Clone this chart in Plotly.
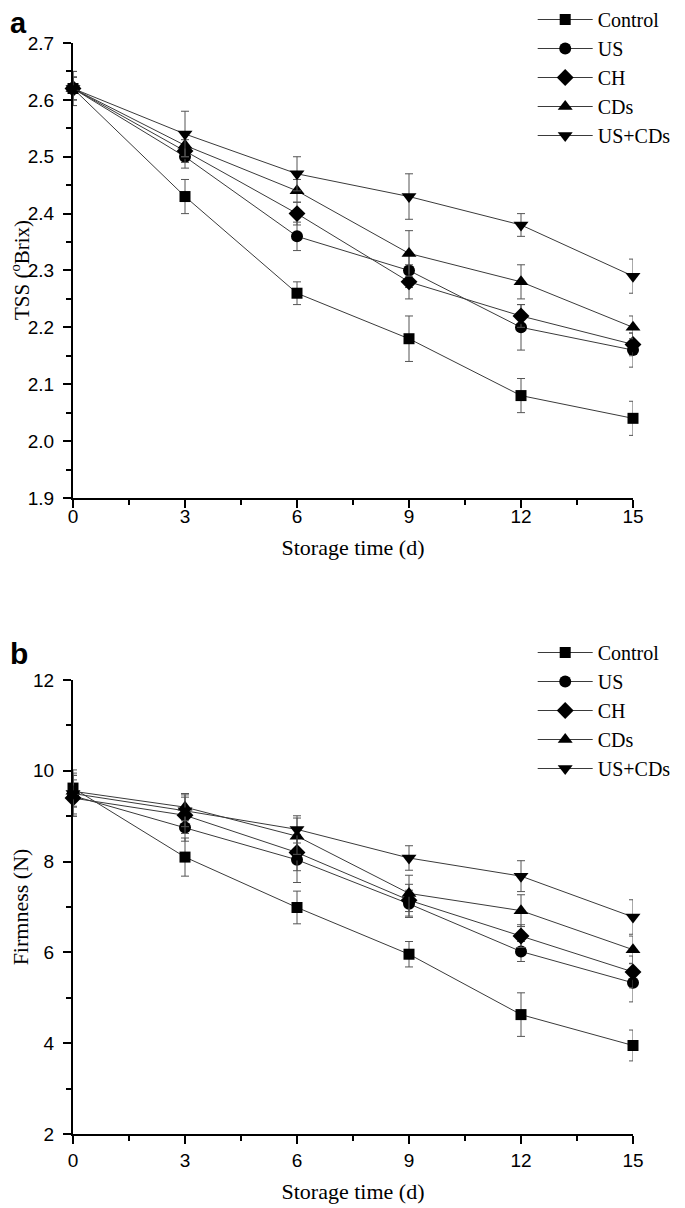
import plotly.graph_objects as go

days = [0, 3, 6, 9, 12, 15]
series_names = ["Control", "US", "CH", "CDs", "US+CDs"]
symbols = ["square", "circle", "diamond", "triangle-up", "triangle-down"]
sizes = [11, 12, 13, 13, 13]

# Panel a: TSS (°Brix)
tss_control = [2.62, 2.43, 2.26, 2.18, 2.08, 2.04]
tss_us = [2.62, 2.50, 2.36, 2.30, 2.20, 2.16]
tss_ch = [2.62, 2.51, 2.40, 2.28, 2.22, 2.17]
tss_cds = [2.62, 2.52, 2.44, 2.33, 2.28, 2.20]
tss_uscds = [2.62, 2.54, 2.47, 2.43, 2.38, 2.29]
tss_control_err = [0.02, 0.03, 0.02, 0.04, 0.03, 0.03]
tss_us_err = [0.02, 0.02, 0.025, 0.03, 0.04, 0.03]
tss_ch_err = [0.03, 0.02, 0.02, 0.03, 0.02, 0.02]
tss_cds_err = [0.02, 0.02, 0.02, 0.04, 0.03, 0.02]
tss_uscds_err = [0.03, 0.04, 0.03, 0.04, 0.02, 0.03]

# Panel b: Firmness (N)
fir_control = [9.62, 8.10, 6.99, 5.96, 4.63, 3.95]
fir_us = [9.45, 8.75, 8.04, 7.07, 6.02, 5.33]
fir_ch = [9.40, 9.02, 8.20, 7.15, 6.36, 5.57]
fir_cds = [9.55, 9.20, 8.56, 7.30, 6.92, 6.06]
fir_uscds = [9.50, 9.12, 8.71, 8.08, 7.68, 6.78]
fir_control_err = [0.40, 0.42, 0.36, 0.28, 0.48, 0.34]
fir_us_err = [0.45, 0.30, 0.50, 0.30, 0.22, 0.42]
fir_ch_err = [0.40, 0.40, 0.40, 0.35, 0.25, 0.35]
fir_cds_err = [0.35, 0.30, 0.40, 0.40, 0.35, 0.30]
fir_uscds_err = [0.45, 0.35, 0.30, 0.27, 0.34, 0.38]

tss = [tss_control, tss_us, tss_ch, tss_cds, tss_uscds]
tss_err = [tss_control_err, tss_us_err, tss_ch_err, tss_cds_err, tss_uscds_err]
fir = [fir_control, fir_us, fir_ch, fir_cds, fir_uscds]
fir_err = [fir_control_err, fir_us_err, fir_ch_err, fir_cds_err, fir_uscds_err]

SERIF = "Liberation Serif, Times New Roman, serif"
SANS = "Liberation Sans, Arial, sans-serif"

# the page adds an 8 px body margin; the figure is sized so the page fits the window
W, H = 677, 1200
PL, PT = 65, 35          # plot-area left / top inside the figure
PW, PH = 560, 1091       # plot-area width / height

fig = go.Figure()

for i, name in enumerate(series_names):
    fig.add_trace(go.Scatter(
        x=days, y=tss[i], name=name, mode="lines+markers",
        line=dict(color="#3a3a3a", width=1),
        marker=dict(symbol=symbols[i], size=sizes[i], color="black"),
        error_y=dict(type="data", array=tss_err[i], visible=True,
                     color="#555555", thickness=1, width=4),
        xaxis="x", yaxis="y", legend="legend", cliponaxis=False,
    ))
for i, name in enumerate(series_names):
    fig.add_trace(go.Scatter(
        x=days, y=fir[i], name=name, mode="lines+markers",
        line=dict(color="#3a3a3a", width=1),
        marker=dict(symbol=symbols[i], size=sizes[i], color="black"),
        error_y=dict(type="data", array=fir_err[i], visible=True,
                     color="#555555", thickness=1, width=4),
        xaxis="x2", yaxis="y2", legend="legend2", cliponaxis=False,
    ))


def xaxis_style(label_standoff):
    return dict(
        range=[0, 15], tickmode="array", tickvals=[0, 3, 6, 9, 12, 15],
        ticks="outside", ticklen=8, tickwidth=1.5, tickcolor="black",
        showline=True, linewidth=2, linecolor="black", showgrid=False, zeroline=False,
        automargin=False, ticklabelstandoff=label_standoff,
        tickfont=dict(family=SANS, size=19, color="black"),
        minor=dict(ticks="outside", ticklen=5, tickwidth=1.5, tickcolor="black",
                   tickvals=[1.5, 4.5, 7.5, 10.5, 13.5], showgrid=False),
        title=dict(text="Storage time (d)", font=dict(family=SERIF, size=22, color="black"), standoff=14),
    )


ycommon = dict(
    ticks="outside", ticklen=8, tickwidth=1.5, tickcolor="black",
    showline=True, linewidth=2, linecolor="black", showgrid=False, zeroline=False,
    automargin=False, ticklabelstandoff=5,
    tickfont=dict(family=SANS, size=19, color="black"),
)

legend_common = dict(xanchor="left", yanchor="top",
                     bgcolor="rgba(0,0,0,0)", font=dict(family=SERIF, size=20, color="black"),
                     itemwidth=55, tracegroupgap=0)

fig.update_layout(
    width=W, height=H,
    paper_bgcolor="white", plot_bgcolor="white",
    margin=dict(l=PL, r=W - PL - PW, t=PT, b=H - PT - PH, autoexpand=False),
    showlegend=True,
    xaxis=dict(domain=[0, 1], anchor="y", **xaxis_style(-8)),
    yaxis=dict(domain=[0.583, 1.0], anchor="x", range=[1.9, 2.7],
               tickvals=[1.9, 2.0, 2.1, 2.2, 2.3, 2.4, 2.5, 2.6, 2.7],
               ticktext=["1.9", "2.0", "2.1", "2.2", "2.3", "2.4", "2.5", "2.6", "2.7"],
               minor=dict(ticks="outside", ticklen=5, tickwidth=1.5, tickcolor="black",
                          tickvals=[1.95, 2.05, 2.15, 2.25, 2.35, 2.45, 2.55, 2.65], showgrid=False),
               **ycommon),
    xaxis2=dict(domain=[0, 1], anchor="y2", **xaxis_style(0)),
    yaxis2=dict(domain=[0.0, 0.4161], anchor="x2", range=[2, 12],
                tickvals=[2, 4, 6, 8, 10, 12],
                minor=dict(ticks="outside", ticklen=5, tickwidth=1.5, tickcolor="black",
                           tickvals=[3, 5, 7, 9, 11], showgrid=False),
                title=dict(text="Firmness (N)", font=dict(family=SERIF, size=22, color="black"), standoff=8),
                **ycommon),
    legend=dict(xref="container", yref="paper", x=524.7 / W, y=1 + 43 / PH, **legend_common),
    legend2=dict(xref="container", yref="container", x=524.7 / W, y=1 - 625 / H, **legend_common),
)

# y-axis title of panel a (rotated text, kept clear of the tick labels)
fig.add_annotation(text="TSS (<sup>o</sup>Brix)", xref="paper", yref="paper",
                   x=-(PL - 12) / PW, y=(PH + PT - 262) / PH, xanchor="center", yanchor="middle",
                   textangle=-90, showarrow=False,
                   font=dict(family=SERIF, size=21, color="black"))

fig.add_annotation(text="<b>a</b>", xref="paper", yref="paper",
                   x=-PL / PW, y=(PH + PT - 15) / PH, xanchor="left", yanchor="middle",
                   showarrow=False, font=dict(family=SANS, size=29, color="black"))
fig.add_annotation(text="<b>b</b>", xref="paper", yref="paper",
                   x=-PL / PW, y=(PH + PT - 645) / PH, xanchor="left", yanchor="middle",
                   showarrow=False, font=dict(family=SANS, size=30, color="black"))

fig.write_html("out.html")
